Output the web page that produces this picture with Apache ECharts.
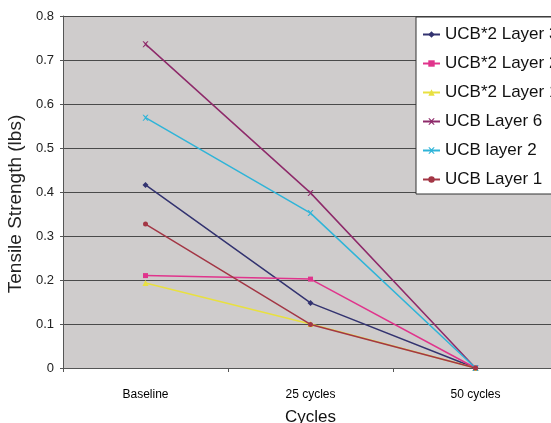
<!DOCTYPE html>
<html>
<head>
<meta charset="utf-8">
<script src="https://cdn.jsdelivr.net/npm/echarts@6/dist/echarts.min.js"></script>
<style>
  html, body { margin: 0; padding: 0; background: #fff; }
  #chart { width: 551px; height: 423px; }
</style>
</head>
<body>
<div id="chart"></div>
<script>
const categories = ["Baseline", "25 cycles", "50 cycles"];
const ucb2Layer3 = [0.416, 0.148, 0];
const ucb2Layer2 = [0.21, 0.202, 0];
const ucb2Layer1 = [0.193, 0.1, 0];
const ucbLayer6 = [0.736, 0.398, 0];
const ucbLayer2 = [0.569, 0.352, 0];
const ucbLayer1 = [0.327, 0.099, 0];

const crossPath = "path://M0,0L2,0L5,3L8,0L10,0L6,5L10,10L8,10L5,7L2,10L0,10L4,5Z";

function line(name, data, color, symbol, size) {
  return {
    name: name,
    type: "line",
    data: data,
    symbol: symbol,
    symbolSize: size,
    lineStyle: { color: color, width: 1.5 },
    itemStyle: { color: color },
    emphasis: { disabled: true }
  };
}

const chart = echarts.init(document.getElementById("chart"));
chart.setOption({
  animation: false,
  backgroundColor: "#fff",
  textStyle: { fontFamily: "Liberation Sans, Arial, sans-serif" },
  grid: {
    left: 63, top: 16, right: -7, bottom: 55,
    outerBoundsMode: "none",
    containLabel: false,
    show: true,
    backgroundColor: "#cfcccc",
    borderWidth: 0
  },
  legend: {
    orient: "vertical",
    left: 416,
    top: 17,
    backgroundColor: "#fff",
    borderColor: "#333",
    borderWidth: 1,
    padding: [9, 40, 6, 6],
    itemWidth: 17,
    itemHeight: 8,
    itemGap: 12,
    textStyle: { fontSize: 17, color: "#111" },
    data: ["UCB*2 Layer 3", "UCB*2 Layer 2", "UCB*2 Layer 1", "UCB Layer 6", "UCB layer 2", "UCB Layer 1"]
  },
  xAxis: {
    type: "category",
    data: categories,
    boundaryGap: true,
    name: "Cycles",
    nameLocation: "middle",
    nameGap: 41,
    nameTextStyle: { fontSize: 17, color: "#111" },
    axisLine: { lineStyle: { color: "#555" } },
    axisTick: { show: true, length: 4, lineStyle: { color: "#555" } },
    axisLabel: { margin: 21, fontSize: 12, color: "#000" }
  },
  yAxis: {
    type: "value",
    min: 0,
    max: 0.8,
    interval: 0.1,
    name: "Tensile Strength (lbs)",
    nameLocation: "middle",
    nameGap: 31,
    nameTextStyle: { fontSize: 19, color: "#222", padding: [0, 24, 0, 0] },
    axisLine: { show: true, lineStyle: { color: "#555" } },
    axisTick: { show: true, length: 3, lineStyle: { color: "#555" } },
    axisLabel: { margin: 9, fontSize: 13, color: "#222" },
    splitLine: { lineStyle: { color: "#4a4a4a", width: 1 } }
  },
  series: [
    line("UCB*2 Layer 3", ucb2Layer3, "#333370", "diamond", 6),
    line("UCB*2 Layer 2", ucb2Layer2, "#e0348c", "rect", 5),
    line("UCB*2 Layer 1", ucb2Layer1, "#e8e040", "triangle", 6),
    line("UCB Layer 6", ucbLayer6, "#8e2a6a", crossPath, 6),
    line("UCB layer 2", ucbLayer2, "#2fb4d8", crossPath, 6),
    line("UCB Layer 1", ucbLayer1, "#a33645", "circle", 5)
  ]
});
</script>
</body>
</html>
